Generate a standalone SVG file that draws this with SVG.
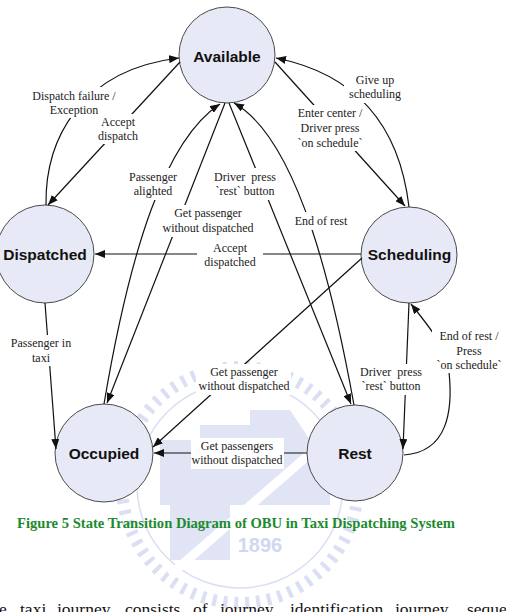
<svg xmlns="http://www.w3.org/2000/svg" width="506" height="612" viewBox="0 0 506 612">
<style>
.node{fill:#e7eaf6;stroke:#4a4a4a;stroke-width:1}
.nlbl{font-family:"Liberation Sans",Arial,sans-serif;font-weight:bold;font-size:15.5px;fill:#111;text-anchor:middle}
.edge{fill:none;stroke:#111;stroke-width:1.2;marker-end:url(#arr)}
.bg{fill:#fff}
.lbl{font-family:"Liberation Serif","Times New Roman",serif;font-size:12px;fill:#222;text-anchor:middle}
.wm{fill:none;stroke:#d6dcf3}
.cap{font-family:"Liberation Serif","Times New Roman",serif;font-weight:bold;font-size:14.6px;fill:#1d8a30}
.para{font-family:"Liberation Serif","Times New Roman",serif;font-size:17.5px;fill:#111}
</style>
<defs>
<marker id="arr" markerUnits="userSpaceOnUse" markerWidth="10" markerHeight="8" refX="10" refY="4" orient="auto">
<path d="M0,0 L10,4 L0,8 z" fill="#111"/>
</marker>
</defs>
<rect width="506" height="612" fill="#fff"/>
<g id="watermark" opacity="0.9">
<circle class="wm" cx="240" cy="485" r="118" stroke-width="12" stroke-dasharray="4 7"/>
<circle class="wm" cx="240" cy="485" r="103" stroke-width="1.5"/>
<path d="M160,505 L160,440 L200,440 L200,425 L250,425 L250,410 L290,410 L310,440 L330,440 L330,505 Z" fill="#dde2f5"/>
<rect x="170" y="505" width="60" height="55" fill="#dde2f5"/>
<line x1="170" y1="575" x2="320" y2="445" stroke="#fff" stroke-width="9"/>
<text x="260" y="552" font-family="Liberation Sans,Arial,sans-serif" font-weight="bold" font-size="20" fill="#ccd3f0" text-anchor="middle">1896</text>
</g>
<g id="node-available"><circle class="node" cx="227" cy="55" r="48"/><text class="nlbl" x="227" y="62">Available</text></g>
<g id="node-dispatched"><circle class="node" cx="45" cy="254" r="49"/><text class="nlbl" x="45" y="259.5">Dispatched</text></g>
<g id="node-scheduling"><circle class="node" cx="409" cy="255" r="48"/><text class="nlbl" x="409.5" y="259.5">Scheduling</text></g>
<g id="node-occupied"><circle class="node" cx="104" cy="453" r="49"/><text class="nlbl" x="104" y="458.5">Occupied</text></g>
<g id="node-rest"><circle class="node" cx="355" cy="453" r="48"/><text class="nlbl" x="355" y="458.5">Rest</text></g>
<g id="connectors">
<path class="edge" d="M46,205 C45,140 80,70 179,58"/>
<path class="edge" d="M180,62 L48,205"/>
<path class="edge" d="M409,207 C400,130 360,75 276,58"/>
<path class="edge" d="M275,62 L405,206"/>
<path class="edge" d="M104,404 C130,250 165,140 220,104"/>
<path class="edge" d="M225,103 L107,403"/>
<path class="edge" d="M229,103 L351,404"/>
<path class="edge" d="M354,405 C335,300 300,140 234,103"/>
<path class="edge" d="M361,254 L95,254"/>
<path class="edge" d="M362,258 L153,447"/>
<path class="edge" d="M45,303 L56,449"/>
<path class="edge" d="M307,453 L154,453"/>
<path class="edge" d="M409,303 L403,449"/>
<path class="edge" d="M404,455 C448,452 453,410 449,372 C446,350 440,340 411,304"/>
</g>
<g id="labels">
<g><rect class="bg" x="30" y="87" width="88" height="31"/><text class="lbl" x="74" y="100">Dispatch failure /</text><text class="lbl" x="74" y="114">Exception</text></g>
<g><rect class="bg" x="96" y="114" width="45" height="30"/><text class="lbl" x="118" y="126">Accept</text><text class="lbl" x="118" y="140">dispatch</text></g>
<g><rect class="bg" x="344" y="70" width="62" height="33"/><text class="lbl" x="375" y="84">Give up</text><text class="lbl" x="375" y="98">scheduling</text></g>
<g><rect class="bg" x="295" y="105" width="70" height="46"/><text class="lbl" x="330" y="117">Enter center /</text><text class="lbl" x="330" y="132">Driver press</text><text class="lbl" x="330" y="147">`on schedule`</text></g>
<g><rect class="bg" x="126" y="168" width="53" height="32"/><text class="lbl" x="153" y="181">Passenger</text><text class="lbl" x="153" y="195">alighted</text></g>
<g><rect class="bg" x="212" y="168" width="66" height="32"/><text class="lbl" x="245" y="181" word-spacing="3">Driver press</text><text class="lbl" x="245" y="195">`rest` button</text></g>
<g><rect class="bg" x="161" y="205" width="94" height="32"/><text class="lbl" x="208" y="217">Get passenger</text><text class="lbl" x="208" y="232">without dispatched</text></g>
<g><rect class="bg" x="290" y="212" width="62" height="18"/><text class="lbl" x="321" y="225">End of rest</text></g>
<g><rect class="bg" x="197" y="241" width="66" height="29"/><text class="lbl" x="230" y="252">Accept</text><text class="lbl" x="230" y="266">dispatched</text></g>
<g><rect class="bg" x="8" y="335" width="66" height="31"/><text class="lbl" x="41" y="347">Passenger in</text><text class="lbl" x="41" y="362">taxi</text></g>
<g><rect class="bg" x="196" y="364" width="95" height="31"/><text class="lbl" x="244" y="376">Get passenger</text><text class="lbl" x="244" y="390">without dispatched</text></g>
<g><rect class="bg" x="191" y="438" width="93" height="31"/><text class="lbl" x="237" y="450">Get passengers</text><text class="lbl" x="237" y="464">without dispatched</text></g>
<g><rect class="bg" x="357" y="364" width="68" height="31"/><text class="lbl" x="391" y="376" word-spacing="3">Driver press</text><text class="lbl" x="391" y="390">`rest` button</text></g>
<g><rect class="bg" x="432" y="327" width="74" height="46"/><text class="lbl" x="469" y="340">End of rest /</text><text class="lbl" x="469" y="355">Press</text><text class="lbl" x="469" y="369">`on schedule`</text></g>
</g>
<text class="cap" x="17" y="528">Figure 5 State Transition Diagram of OBU in Taxi Dispatching System</text>
<text class="para" y="615"><tspan x="-1">e</tspan><tspan x="20">taxi</tspan><tspan x="57">journey</tspan><tspan x="125">consists</tspan><tspan x="193">of</tspan><tspan x="220">journey</tspan><tspan x="290">identification,</tspan><tspan x="395">journey</tspan><tspan x="467">seque</tspan></text>
</svg>
